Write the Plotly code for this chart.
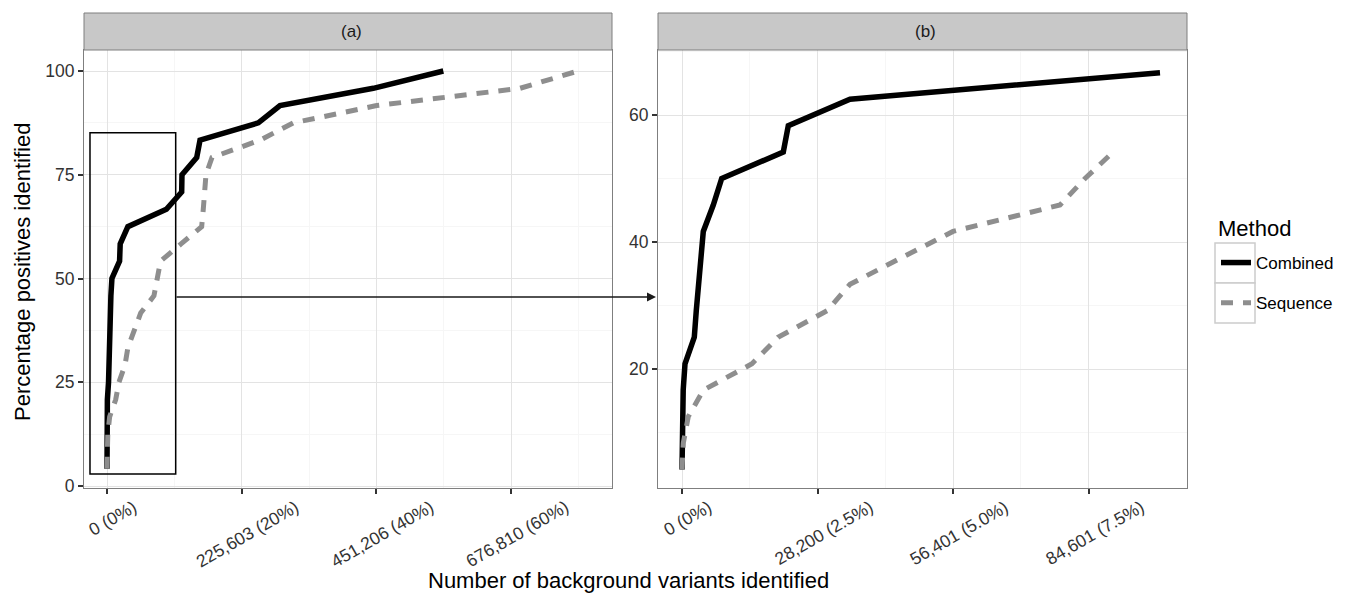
import plotly.graph_objects as go

# ---------------- data ----------------
METHODS = ["Combined", "Sequence"]

combined_x = [0, 0, 100, 250, 624, 2560, 2970, 3530, 4100, 4430, 6510, 8260,
              21080, 22120, 34960, 99480, 125100, 125600, 150300, 155800,
              253500, 289800, 446100, 563400]
combined_y = [4.17, 8.33, 12.5, 16.67, 20.83, 25, 29.17, 33.33, 37.5, 41.67,
              45.83, 50, 54.17, 58.33, 62.5, 66.67, 70.83, 75, 79.17, 83.33,
              87.5, 91.67, 95.83, 100]

sequence_x = [0, 270, 1310, 4430, 14570, 19980, 30180, 34960, 45580, 56400,
              78670, 83870, 89700, 124000, 158600, 161300, 163300, 165800,
              175900, 256300, 312100, 451800, 691900, 789000]
sequence_y = [4.17, 8.33, 12.5, 16.67, 20.83, 25, 29.17, 33.33, 37.5, 41.67,
              45.83, 50, 54.17, 58.33, 62.5, 66.67, 70.83, 75, 79.17, 83.33,
              87.5, 91.67, 95.83, 100]

ZOOM_MAX = 100000  # panel (b) shows the low end of the curves

a_xtick_vals = [0, 225603, 451206, 676810]
a_xtick_text = ["0 (0%)", "225,603 (20%)", "451,206 (40%)", "676,810 (60%)"]
a_xminor = [112801, 338404, 564008, 789610]
a_ytick_vals = [0, 25, 50, 75, 100]
a_yminor = [12.5, 37.5, 62.5, 87.5]

b_xtick_vals = [0, 28200, 56401, 84601]
b_xtick_text = ["0 (0%)", "28,200 (2.5%)", "56,401 (5.0%)", "84,601 (7.5%)"]
b_xminor = [14100, 42300, 70500]
b_ytick_vals = [20, 40, 60]
b_yminor = [10, 30, 50, 70]

PANELS = ["(a)", "(b)"]
LEGEND_TITLE = "Method"

# ---------------- styling ----------------
W, H = 1350, 594
FONT = "Liberation Sans, Arial, Helvetica, sans-serif"
BLACK = "#000000"
GREY = "#8e8e8e"
TICK_SIZE = 17.5

def px_x(p):
    return p / W

def px_y(p):
    return 1 - p / H

A_DOM = [px_x(84), px_x(612)]
B_DOM = [px_x(658), px_x(1187)]
Y_DOM = [px_y(488), px_y(50)]

fig = go.Figure()

series = [(METHODS[0], combined_x, combined_y, BLACK, 5.5, "solid"),
          (METHODS[1], sequence_x, sequence_y, GREY, 5, "12px,10px")]

for name, xs, ys, col, w, dash in series:
    fig.add_trace(go.Scatter(x=xs, y=ys, mode="lines", name=name,
                             legendgroup=name, showlegend=True,
                             line=dict(color=col, width=w, dash=dash),
                             xaxis="x", yaxis="y"))
for name, xs, ys, col, w, dash in series:
    bx = [x for x in xs if x <= ZOOM_MAX]
    by = [y for x, y in zip(xs, ys) if x <= ZOOM_MAX]
    fig.add_trace(go.Scatter(x=bx, y=by, mode="lines", name=name,
                             legendgroup=name, showlegend=False,
                             line=dict(color=col, width=w, dash=dash),
                             xaxis="x2", yaxis="y2"))

axis_common = dict(showline=True, mirror=True, linecolor="#7f7f7f", linewidth=1,
                   ticks="outside", ticklen=5, tickwidth=1.5, tickcolor="#333333",
                   showgrid=True, gridcolor="#e3e3e3", gridwidth=1, zeroline=False,
                   automargin=False,
                   tickfont=dict(family=FONT, size=TICK_SIZE, color="#333333"))

fig.update_layout(
    template="none",
    width=W, height=H, autosize=False, margin=dict(l=0, r=0, t=0, b=0, pad=0),
    paper_bgcolor="white", plot_bgcolor="white",
    font=dict(family=FONT, color="#000000"),
    xaxis=dict(domain=A_DOM, range=[-38530, 846000], tickmode="array",
               tickvals=a_xtick_vals, showticklabels=False,
               minor=dict(tickmode="array", tickvals=a_xminor, showgrid=True,
                          gridcolor="#f6f6f6", ticks=""),
               anchor="y", **axis_common),
    yaxis=dict(domain=Y_DOM, range=[-0.48, 105.06], tickmode="array",
               tickvals=a_ytick_vals,
               minor=dict(tickmode="array", tickvals=a_yminor, showgrid=True,
                          gridcolor="#f6f6f6", ticks=""),
               anchor="x", **axis_common),
    xaxis2=dict(domain=B_DOM, range=[-4995, 105100], tickmode="array",
                tickvals=b_xtick_vals, showticklabels=False,
                minor=dict(tickmode="array", tickvals=b_xminor, showgrid=True,
                           gridcolor="#f6f6f6", ticks=""),
                anchor="y2", **axis_common),
    yaxis2=dict(domain=Y_DOM, range=[1.26, 70.24], tickmode="array",
                tickvals=b_ytick_vals,
                minor=dict(tickmode="array", tickvals=b_yminor, showgrid=True,
                           gridcolor="#f6f6f6", ticks=""),
                anchor="x2", **axis_common),
    legend=dict(x=px_x(1216), xanchor="left", y=px_y(245), yanchor="top",
                font=dict(family=FONT, size=17, color="#000"),
                tracegroupgap=15, traceorder="grouped",
                bgcolor="rgba(0,0,0,0)", borderwidth=0),
)

shapes = []
annotations = []

# strips
for dom, label in zip([A_DOM, B_DOM], PANELS):
    shapes.append(dict(type="rect", xref="paper", yref="paper",
                       x0=dom[0], x1=dom[1], y0=px_y(50), y1=px_y(13),
                       fillcolor="#c8c8c8", line=dict(color="#7f7f7f", width=1),
                       layer="above"))
    annotations.append(dict(xref="paper", yref="paper", x=(dom[0] + dom[1]) / 2,
                            y=px_y(31.5), text=label, showarrow=False,
                            xanchor="center", yanchor="middle", xshift=3,
                            font=dict(family=FONT, size=17, color="#1a1a1a")))

# rotated x tick labels
for axref, vals, texts in [("x", a_xtick_vals, a_xtick_text),
                           ("x2", b_xtick_vals, b_xtick_text)]:
    for v, t in zip(vals, texts):
        annotations.append(dict(xref=axref, yref="paper", x=v, y=px_y(494),
                                text=t, showarrow=False, textangle=-30,
                                xanchor="center", yanchor="top", xshift=6,
                                font=dict(family=FONT, size=TICK_SIZE, color="#333333")))

# axis titles
annotations.append(dict(xref="paper", yref="paper", x=px_x(628), y=px_y(580),
                        text="Number of background variants identified",
                        showarrow=False, xanchor="center", yanchor="middle",
                        font=dict(family=FONT, size=22, color="#000")))
annotations.append(dict(xref="paper", yref="paper", x=px_x(22), y=px_y(272),
                        text="Percentage positives identified", textangle=-90,
                        showarrow=False, xanchor="center", yanchor="middle",
                        font=dict(family=FONT, size=22, color="#000")))
# legend title
annotations.append(dict(xref="paper", yref="paper", x=px_x(1216), y=px_y(228),
                        text=LEGEND_TITLE, showarrow=False, xanchor="left",
                        yanchor="middle",
                        font=dict(family=FONT, size=22, color="#000")))

# zoom rectangle in panel (a)
shapes.append(dict(type="rect", xref="x", yref="y", x0=-28500, x1=115100,
                   y0=2.9, y1=85.1, line=dict(color="black", width=1.5)))
# arrow from rectangle to panel (b)
annotations.append(dict(xref="paper", yref="paper", x=px_x(656), y=px_y(297),
                        ax=-481, ay=0, axref="pixel", ayref="pixel", text="",
                        showarrow=True, arrowhead=2, arrowsize=1.2,
                        arrowwidth=1.5, arrowcolor="#1a1a1a"))

# legend key boxes
for top in [243, 283]:
    shapes.append(dict(type="rect", xref="paper", yref="paper",
                       x0=px_x(1215), x1=px_x(1255), y0=px_y(top + 40), y1=px_y(top),
                       line=dict(color="#cccccc", width=1.5), fillcolor="white",
                       layer="below"))

fig.update_layout(shapes=shapes, annotations=annotations)
fig.write_html("out.html", config={"displayModeBar": False},
               post_script="document.body.style.margin='0';document.body.style.padding='0';")
